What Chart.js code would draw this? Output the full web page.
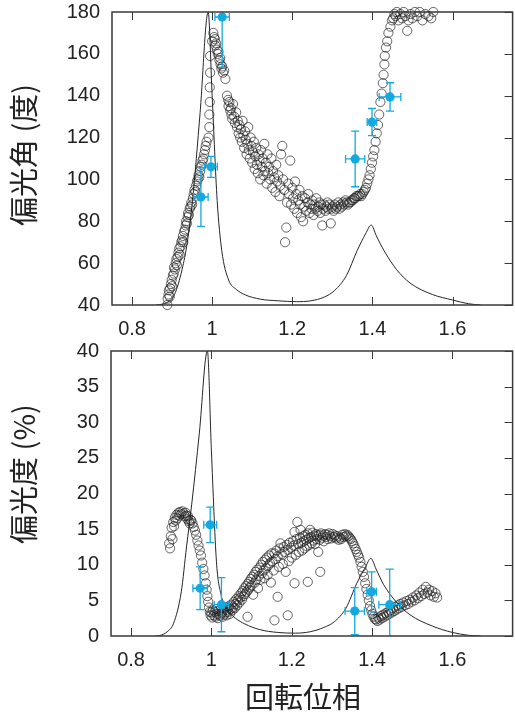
<!DOCTYPE html>
<html>
<head>
<meta charset="utf-8">
<script src="https://cdn.jsdelivr.net/npm/chart.js@4.4.1/dist/chart.umd.min.js"></script>
<style>
  html, body { margin: 0; padding: 0; background: #fff; overflow: hidden; }
  #wrap { position: relative; width: 515px; height: 716px; overflow: hidden; }
  canvas { position: absolute; left: 0; }
  #top { top: 0; }
  #bottom { top: 340px; }
</style>
</head>
<body>
<div id="wrap">
  <canvas id="top" width="518" height="340"></canvas>
  <canvas id="bottom" width="518" height="376"></canvas>
</div>
<script>
// 軸の目盛り
const xTicks = [0.8, 1.0, 1.2, 1.4, 1.6];
const angleTicks = [40, 60, 80, 100, 120, 140, 160, 180];
const degreeTicks = [0, 5, 10, 15, 20, 25, 30, 35, 40];

// 光度曲線（各パネルの縦軸に合わせて読み取った値）
const lcPhase  = [0.86, 0.87, 0.89, 0.906, 0.925, 0.938, 0.951, 0.97, 0.99, 1.0, 1.0125, 1.024, 1.041, 1.06, 1.083, 1.12, 1.165, 1.21, 1.246, 1.28, 1.306, 1.335, 1.362, 1.383, 1.397, 1.41, 1.429, 1.46, 1.494, 1.55, 1.60, 1.64, 1.67];
const lcAngle  = [40, 40.2, 41.5, 45, 57, 70, 90, 132, 180, 140, 90, 66, 52, 47.5, 44.8, 42.8, 42, 41.6, 42, 43.8, 47, 54, 66, 74, 78.2, 73, 66, 57, 50.5, 45, 42.4, 40.6, 40];
const lcDegree = [0, 0.05, 0.6, 1.8, 6.2, 12.5, 18.5, 28.5, 40, 26, 10.5, 5.8, 3.6, 2.5, 1.7, 0.9, 0.5, 0.4, 0.6, 1.2, 2.0, 3.9, 7.4, 9.6, 10.9, 9.4, 7.2, 4.8, 3.0, 1.4, 0.5, 0.1, 0];

// 観測点（白丸）: [位相, 偏光角]
const angleObs = [
  [0.888,40],[0.889,43],[0.891,45],[0.892,47],[0.894,44],[0.895,48],[0.897,50],[0.899,52],[0.900,49],[0.902,54],
  [0.904,55],[0.905,58],[0.907,57],[0.909,60],[0.911,62],[0.912,59],[0.914,63],[0.916,65],[0.918,67],[0.919,64],
  [0.921,68],[0.923,70],[0.925,71],[0.927,73],[0.928,70],[0.930,75],[0.932,76],[0.934,78],[0.935,80],[0.937,79],
  [0.939,82],[0.940,84],[0.942,83],[0.944,86],[0.946,87],[0.948,89],[0.950,88],[0.952,91],[0.954,93],[0.956,95],
  [0.958,94],[0.960,97],[0.962,99],[0.964,100],[0.966,102],[0.968,101],[0.970,104],[0.972,106],[0.974,107],[0.976,109],
  [0.978,110],[0.980,112],[0.982,114],[0.984,116],[0.986,118],
  [0.991,120],[0.993,125],[0.993,131],[0.994,137],[0.994,144],[0.995,151],[0.995,159],
  [1.000,166],[1.003,170],[1.005,168],[1.007,167],[1.008,164],[1.010,165],[1.012,162],[1.014,160],[1.016,161],[1.018,157],
  [1.020,158],[1.021,155],[1.023,153],[1.025,154],[1.027,151],[1.030,152],[1.033,148],
  [1.037,140],[1.040,138],[1.041,135],[1.043,137],[1.045,133],[1.047,134],[1.048,131],[1.050,129],[1.052,136],[1.055,130],
  [1.057,127],[1.060,132],[1.062,125],[1.064,128],[1.066,122],[1.068,126],[1.070,120],[1.072,124],[1.074,118],[1.076,128],
  [1.078,121],[1.080,115],[1.082,123],[1.084,119],[1.086,112],[1.088,117],[1.090,125],[1.092,114],[1.094,110],[1.096,120],
  [1.098,116],[1.100,108],[1.102,113],[1.104,118],[1.106,105],[1.108,111],[1.110,115],[1.112,107],[1.114,103],[1.116,112],
  [1.118,109],[1.120,100],[1.122,114],[1.124,106],[1.126,110],[1.128,102],[1.130,117],[1.132,104],[1.134,108],[1.136,98],
  [1.138,112],[1.140,103],[1.142,106],[1.145,100],[1.148,110],[1.150,96],[1.152,104],[1.155,101],[1.158,94],[1.160,107],
  [1.162,99],[1.165,102],[1.168,92],[1.170,97],[1.172,112],[1.175,116],[1.177,100],[1.180,95],[1.182,70],[1.185,77],
  [1.187,89],[1.190,98],[1.192,93],[1.195,109],[1.197,88],[1.200,96],[1.202,91],[1.205,86],[1.207,99],[1.210,93],
  [1.212,84],[1.215,90],[1.218,95],[1.220,88],[1.222,82],[1.225,92],[1.227,80],[1.230,87],[1.232,91],[1.235,85],
  [1.238,89],[1.240,93],[1.243,84],[1.245,88],[1.248,86],[1.250,90],[1.253,83],[1.255,88],[1.258,86],[1.260,91],
  [1.263,85],[1.265,87],[1.268,89],[1.270,84],[1.272,88],[1.275,78],[1.277,86],[1.280,88],[1.283,85],[1.285,87],
  [1.288,89],[1.290,86],[1.293,88],[1.296,79],[1.298,86],[1.300,87],[1.303,85],[1.306,88],[1.309,86],[1.312,87],
  [1.315,89],[1.318,86],[1.321,88],[1.324,87],[1.327,89],[1.330,88],[1.333,90],[1.336,89],[1.339,88],[1.342,89],
  [1.345,89],[1.348,90],[1.351,90],[1.354,91],[1.357,91],[1.360,92],[1.363,92],[1.366,92],[1.369,93],[1.372,92],
  [1.375,93],[1.378,94],[1.381,95],[1.384,96],[1.387,98],[1.390,100],[1.393,102],[1.396,105],[1.399,108],[1.402,111],
  [1.405,114],[1.408,118],[1.411,122],[1.414,126],[1.417,131],[1.420,137],[1.423,141],[1.426,146],[1.428,150],[1.430,155],
  [1.431,159],[1.434,163],[1.437,166],[1.440,170],[1.445,173],[1.449,176],[1.452,177],[1.455,179],[1.458,178],[1.461,180],
  [1.465,176],[1.470,179],[1.474,177],[1.478,180],[1.482,178],[1.487,171],[1.490,176],[1.495,179],[1.500,177],[1.506,180],
  [1.512,178],[1.518,180],[1.525,176],[1.532,179],[1.540,178],[1.547,177],[1.552,180]
];

// 観測点（白丸）: [位相, 偏光度 %]
const degreeObs = [
  [0.895,13.0],[0.897,12.3],[0.899,14.0],[0.901,15.2],[0.903,13.6],[0.905,16.0],[0.907,15.4],[0.909,16.6],[0.911,16.2],[0.913,17.0],
  [0.915,16.5],[0.918,17.3],[0.920,16.9],[0.922,17.4],[0.925,17.1],[0.928,17.5],[0.931,17.2],[0.934,16.8],[0.936,17.3],[0.938,16.9],
  [0.940,16.4],[0.942,16.8],[0.944,16.1],[0.946,15.8],[0.948,16.3],[0.950,16.2],[0.953,15.8],[0.956,15.3],[0.959,14.8],[0.962,14.2],
  [0.965,13.4],[0.968,12.7],[0.971,12.0],[0.974,11.3],[0.977,10.3],[0.980,9.4],[0.983,8.5],[0.986,7.4],[0.988,6.5],[0.990,5.6],
  [0.992,4.8],[0.994,4.0],[0.996,3.4],[0.998,2.9],[1.000,3.3],
  [1.002,2.6],[1.004,3.6],[1.006,2.9],[1.008,3.4],[1.010,2.7],[1.012,3.8],[1.014,3.1],[1.016,2.5],[1.018,3.5],[1.020,3.0],
  [1.022,2.8],[1.024,3.9],[1.026,3.2],[1.028,2.7],[1.030,3.6],[1.032,3.0],[1.034,4.0],[1.036,3.3],[1.038,2.9],[1.040,3.7],
  [1.042,3.4],[1.044,4.2],[1.046,3.1],[1.048,3.8],[1.050,4.4],[1.052,3.6],[1.054,4.0],[1.056,4.8],[1.058,3.9],[1.060,4.5],
  [1.062,5.2],[1.064,4.3],[1.066,5.0],[1.068,5.6],[1.070,4.7],[1.072,5.4],[1.074,6.0],[1.076,5.1],[1.078,6.3],[1.080,5.6],
  [1.082,6.7],[1.084,5.9],[1.086,7.0],[1.088,6.2],[1.090,2.7],[1.090,7.3],[1.092,6.5],[1.094,7.6],[1.096,6.8],[1.098,8.0],
  [1.100,7.1],[1.102,8.3],[1.104,5.8],[1.106,8.6],[1.108,7.5],[1.110,9.0],[1.112,7.9],[1.114,9.3],[1.116,6.7],[1.118,8.4],
  [1.120,9.6],[1.122,7.9],[1.124,10.0],[1.126,8.8],[1.128,10.4],[1.130,9.2],[1.132,8.1],[1.134,10.7],[1.136,9.5],[1.138,11.0],
  [1.140,8.6],[1.142,9.9],[1.144,11.3],[1.146,10.2],[1.148,7.5],[1.150,11.6],[1.152,10.5],[1.155,9.2],[1.157,11.6],[1.157,2.2],
  [1.160,10.8],[1.162,12.0],[1.165,5.5],[1.165,11.2],[1.168,9.7],[1.170,12.3],[1.172,13.0],[1.175,11.5],[1.178,10.1],[1.180,12.5],
  [1.182,11.8],[1.185,9.0],[1.188,12.8],[1.190,2.9],[1.190,12.1],[1.193,10.5],[1.195,13.1],[1.198,12.4],[1.200,11.0],[1.203,13.3],
  [1.205,12.7],[1.207,14.6],[1.207,7.4],[1.210,11.4],[1.212,13.6],[1.214,16.0],[1.216,12.9],[1.218,11.8],[1.220,13.8],[1.222,14.9],
  [1.224,13.1],[1.226,12.0],[1.228,14.0],[1.230,13.3],[1.232,12.3],[1.234,14.2],[1.236,13.5],[1.238,12.6],[1.240,7.6],[1.240,14.4],
  [1.242,13.7],[1.244,12.8],[1.246,14.9],[1.248,13.9],[1.250,13.0],[1.252,14.5],[1.254,13.4],[1.256,14.1],[1.258,12.9],[1.260,14.3],
  [1.262,13.6],[1.264,14.0],[1.266,11.8],[1.268,14.2],[1.270,13.5],[1.271,9.0],[1.273,14.4],[1.275,13.8],[1.278,14.1],[1.280,13.3],
  [1.283,14.3],[1.285,13.9],[1.288,14.2],[1.290,13.6],[1.293,14.4],[1.296,14.0],[1.299,13.7],[1.302,14.3],[1.305,13.9],[1.308,14.1],
  [1.311,13.7],[1.314,14.0],[1.317,13.5],[1.320,13.8],[1.323,13.6],[1.326,14.2],[1.329,13.9],[1.332,14.3],[1.335,14.0],[1.338,14.2],
  [1.341,14.0],[1.344,13.8],[1.347,13.6],[1.350,13.3],[1.353,13.0],[1.356,12.6],[1.359,12.2],[1.362,11.8],[1.365,11.4],[1.368,11.0],
  [1.371,10.4],[1.374,9.7],[1.377,9.0],[1.380,8.3],[1.383,7.4],[1.386,6.6],[1.389,5.8],[1.392,5.0],[1.395,4.2],[1.398,3.6],
  [1.401,3.1],[1.404,2.7],[1.407,2.4],[1.410,2.3],[1.413,2.1],[1.416,2.6],[1.419,2.3],[1.422,2.8],[1.425,2.5],[1.428,3.0],
  [1.431,2.7],[1.434,3.2],[1.437,2.9],[1.440,3.4],[1.443,3.1],[1.446,3.6],[1.449,3.3],[1.452,3.9],[1.455,3.5],[1.458,4.1],
  [1.461,3.7],[1.464,4.3],[1.467,3.9],[1.470,4.5],[1.474,4.1],[1.478,4.7],[1.482,4.3],[1.486,4.9],[1.490,4.5],[1.494,5.1],
  [1.498,4.8],[1.502,5.4],[1.506,5.0],[1.510,5.7],[1.514,5.3],[1.518,6.1],[1.522,5.6],[1.526,6.5],[1.530,5.9],[1.534,6.9],
  [1.538,6.1],[1.542,6.5],[1.546,5.7],[1.550,6.3],[1.554,5.5],[1.558,6.0],[1.562,5.4]
];

// 青い点（誤差付き）
const bluePhase = [0.972, 0.997, 1.025, 1.357, 1.399, 1.444];
const bluePhaseErr = [0.018, 0.016, 0.018, 0.024, 0.012, 0.027];
const blueAngle = [91.6, 106, 177.6, 109.8, 127.4, 139.4];
const blueAngleErr = [14, 5, 24, 13.3, 6.5, 6.8];
const blueDegree = [6.7, 15.6, 4.4, 3.5, 6.2, 4.4];
const blueDegreeErr = [3.0, 2.5, 3.8, 3.3, 2.8, 5.0];

const BLUE = "#13a9e1";
const INK = "#262626";
const tickFont = { family: "'Liberation Sans', Arial, sans-serif", size: 20 };
const jpFont = "29px 'Noto Sans CJK JP', sans-serif";

function makeErrorBars(xs, ys, yErr, xErr) {
  return {
    id: "errorBars",
    afterDatasetsDraw(chart) {
      const { ctx, chartArea, scales } = chart;
      const sx = scales.x, sy = scales.y;
      ctx.save();
      ctx.beginPath();
      ctx.rect(chartArea.left, chartArea.top, chartArea.width, chartArea.height);
      ctx.clip();
      ctx.strokeStyle = BLUE;
      ctx.lineWidth = 1.3;
      xs.forEach((xv, i) => {
        const px = sx.getPixelForValue(xv);
        const py = sy.getPixelForValue(ys[i]);
        const y0 = sy.getPixelForValue(ys[i] - yErr[i]);
        const y1 = sy.getPixelForValue(ys[i] + yErr[i]);
        const x0 = sx.getPixelForValue(xv - xErr[i]);
        const x1 = sx.getPixelForValue(xv + xErr[i]);
        ctx.beginPath();
        ctx.moveTo(px, y0); ctx.lineTo(px, y1);
        ctx.moveTo(px - 4, y0); ctx.lineTo(px + 4, y0);
        ctx.moveTo(px - 4, y1); ctx.lineTo(px + 4, y1);
        ctx.moveTo(x0, py); ctx.lineTo(x1, py);
        ctx.moveTo(x0, py - 4); ctx.lineTo(x0, py + 4);
        ctx.moveTo(x1, py - 4); ctx.lineTo(x1, py + 4);
        ctx.stroke();
      });
      ctx.restore();
    }
  };
}

// 枠線・内向き目盛り・軸タイトル
function makeFrame(titles) {
  return {
    id: "frame",
    afterDraw(chart) {
      const { ctx, chartArea: a, scales } = chart;
      ctx.save();
      ctx.strokeStyle = "#3a3a3a";
      ctx.lineWidth = 1.5;
      ctx.strokeRect(a.left, a.top, a.right - a.left, a.bottom - a.top);
      ctx.lineWidth = 1;
      ctx.beginPath();
      xTicks.forEach(v => {
        const px = Math.round(scales.x.getPixelForValue(v)) + 0.5;
        ctx.moveTo(px, a.bottom); ctx.lineTo(px, a.bottom - 8);
        ctx.moveTo(px, a.top); ctx.lineTo(px, a.top + 8);
      });
      scales.y.ticks.forEach(t => {
        const py = Math.round(scales.y.getPixelForValue(t.value)) + 0.5;
        ctx.moveTo(a.right, py); ctx.lineTo(a.right - 8, py);
      });
      ctx.stroke();

      ctx.fillStyle = "#222";
      ctx.font = jpFont;
      ctx.textAlign = "center";
      ctx.textBaseline = "middle";
      titles.forEach(t => {
        ctx.save();
        ctx.translate(t.x, t.y);
        if (t.rotate) ctx.rotate(-Math.PI / 2);
        ctx.fillText(t.text, 0, 0);
        ctx.restore();
      });
      ctx.restore();
    }
  };
}

function buildPanel(canvasId, cfg) {
  const canvas = document.getElementById(canvasId);
  new Chart(canvas, {
    type: "scatter",
    data: {
      datasets: [
        {
          label: "blue",
          data: bluePhase.map((x, i) => ({ x, y: cfg.blueY[i] })),
          pointRadius: 4.6,
          pointBackgroundColor: BLUE,
          pointBorderColor: BLUE,
          pointBorderWidth: 0,
          clip: false
        },
        {
          label: "obs",
          data: cfg.obs.map(p => ({ x: p[0], y: p[1] })),
          pointRadius: 4.6,
          pointBackgroundColor: "rgba(0,0,0,0)",
          pointBorderColor: "rgba(30,30,30,0.85)",
          pointBorderWidth: 0.8,
          clip: false
        },
        {
          label: "light",
          data: lcPhase.map((x, i) => ({ x, y: cfg.lc[i] })),
          showLine: true,
          borderColor: INK,
          borderWidth: 1,
          pointRadius: 0,
          cubicInterpolationMode: "monotone"
        }
      ]
    },
    options: {
      responsive: false,
      animation: false,
      events: [],
      layout: { padding: { top: cfg.padTop, right: 2, left: 0, bottom: 0 } },
      plugins: { legend: { display: false }, tooltip: { enabled: false } },
      scales: {
        x: {
          type: "linear",
          min: 0.75,
          max: 1.75,
          afterBuildTicks: s => { s.ticks = xTicks.map(v => ({ value: v })); },
          afterFit: s => { s.height = cfg.xHeight; s.paddingLeft = 0; s.paddingRight = 0; },
          grid: { display: false, drawTicks: false },
          border: { display: false },
          ticks: {
            font: tickFont,
            color: "#222",
            padding: 12,
            maxRotation: 0,
            callback: v => String(Math.round(v * 10) / 10)
          }
        },
        y: {
          type: "linear",
          min: cfg.yTicks[0],
          max: cfg.yTicks[cfg.yTicks.length - 1],
          afterBuildTicks: s => { s.ticks = cfg.yTicks.map(v => ({ value: v })); },
          afterFit: s => { s.width = cfg.yWidth; s.paddingTop = 0; s.paddingBottom = 0; },
          grid: { display: false, drawTicks: false },
          border: { display: false },
          ticks: { font: tickFont, color: "#222", padding: 12 }
        }
      }
    },
    plugins: [makeErrorBars(bluePhase, cfg.blueY, cfg.blueErr, bluePhaseErr), makeFrame(cfg.titles)]
  });
}

buildPanel("top", {
  obs: angleObs, lc: lcAngle, blueY: blueAngle, blueErr: blueAngleErr,
  yTicks: angleTicks, padTop: 12, xHeight: 35, yWidth: 112,
  titles: [{ text: "偏光角 (度)", x: 24, y: 155, rotate: true }]
});

buildPanel("bottom", {
  obs: degreeObs, lc: lcDegree, blueY: blueDegree, blueErr: blueDegreeErr,
  yTicks: degreeTicks, padTop: 11, xHeight: 80, yWidth: 111,
  titles: [
    { text: "偏光度 (%)", x: 24, y: 134, rotate: true },
    { text: "回転位相", x: 303, y: 357, rotate: false }
  ]
});
</script>
</body>
</html>
